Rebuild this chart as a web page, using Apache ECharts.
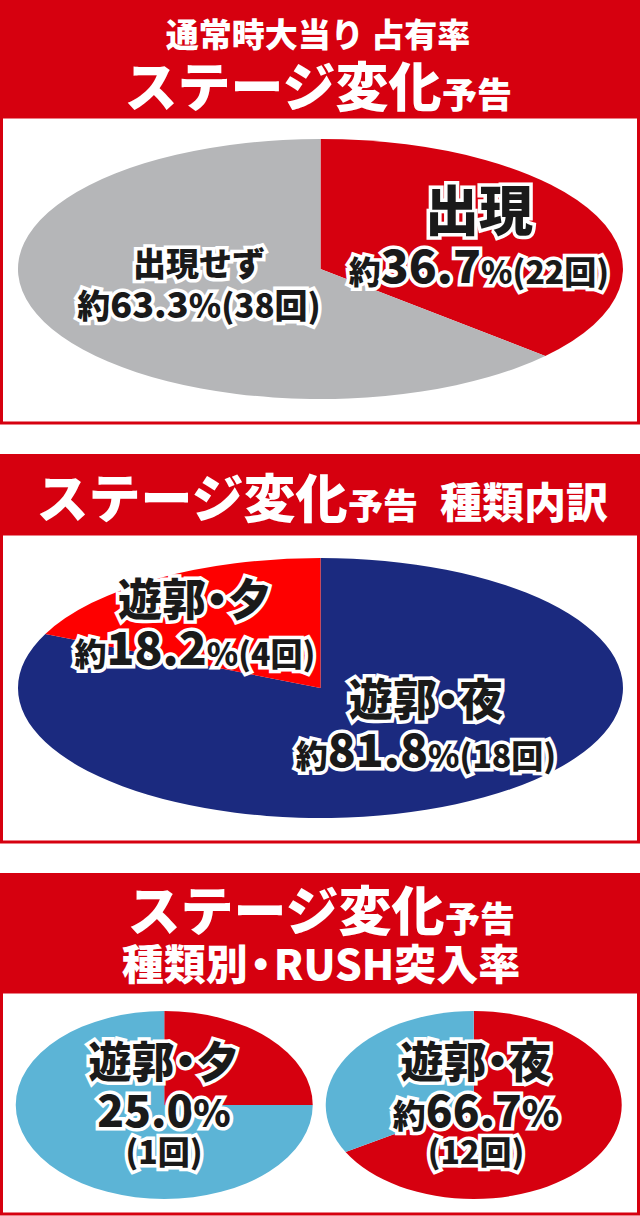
<!DOCTYPE html>
<html><head><meta charset="utf-8">
<script src="https://cdn.jsdelivr.net/npm/echarts@6/dist/echarts.min.js"></script>
<style>
html,body{margin:0;padding:0;background:#fff;}
#page{position:relative;width:640px;height:1216px;overflow:hidden;background:#fff;}
.pie{position:absolute;transform-origin:0 0;}
#overlay{position:absolute;left:0;top:0;width:640px;height:1216px;pointer-events:none;}
</style></head><body>
<div id="page">
  <div id="pie1" class="pie"></div>
  <div id="pie2" class="pie"></div>
  <div id="pie3a" class="pie"></div>
  <div id="pie3b" class="pie"></div>
  <div id="overlay"></div>
</div>
<script>
// ---------- data ----------
const headerTitles = ['通常時大当り 占有率', 'ステージ変化', '予告', '種類内訳', '種類別・RUSH突入率'];
const pie1Names = ['出現', '出現せず'];
const pie1Values = [22, 38];
const pie2Names = ['遊郭・夜', '遊郭・夕'];
const pie2Values = [18, 4];
const pie3aNames = ['RUSH突入', '非突入'];
const pie3aValues = [1, 3];
const pie3bNames = ['RUSH突入', '非突入'];
const pie3bValues = [12, 6];

// ---------- helpers ----------
const RED = '#d6000f';
const FONT = '"Noto Sans CJK JP", "Noto Sans CJK SC", sans-serif';
const WEIGHT = 900;
function pct(values, i) {
  const s = values.reduce((a, b) => a + b, 0);
  return (values[i] / s * 100).toFixed(1);
}
function makePie(id, cx, cy, rx, ry, names, values, colors) {
  const pad = 3;
  const el = document.getElementById(id);
  const size = 2 * ry + 2 * pad;
  const sx = rx / ry;
  el.style.width = size + 'px';
  el.style.height = size + 'px';
  el.style.left = (cx - (ry + pad) * sx) + 'px';
  el.style.top = (cy - ry - pad) + 'px';
  el.style.transform = 'scaleX(' + sx + ')';
  const chart = echarts.init(el, null, { renderer: 'svg' });
  chart.setOption({
    animation: false,
    series: [{
      type: 'pie', center: ['50%', '50%'], radius: [0, ry],
      startAngle: 90, clockwise: true, silent: true,
      label: { show: false }, labelLine: { show: false },
      itemStyle: { borderWidth: 0 },
      data: names.map((n, i) => ({ name: n, value: values[i], itemStyle: { color: colors[i] } }))
    }]
  });
}
// One text element, possibly several lines.
// lines: [{ y: centre of the largest glyph box, segs: [[text, fontSize, extra], ...] }]
let tokId = 0;
function label(x, lines, opts) {
  opts = opts || {};
  const fill = opts.fill || '#1a1a1a';
  const stroke = opts.stroke;
  const lw = opts.lineWidth || 0;
  const rich = {};
  const strs = [];
  let prevBottom = null, top = null;
  lines.forEach((ln) => {
    const fmax = Math.max.apply(null, ln.segs.map(s => s[1]));
    const bottom = ln.y + fmax / 2;
    let L;
    if (prevBottom === null) { L = fmax; top = bottom - fmax; } else { L = bottom - prevBottom; }
    prevBottom = bottom;
    let str = '';
    ln.segs.forEach((s) => {
      const k = 't' + (tokId++);
      str += '{' + k + '|' + s[0] + '}';
      const st = {
        fontSize: s[1], lineHeight: L, fontWeight: WEIGHT, fontFamily: FONT,
        verticalAlign: 'bottom', fill: fill
      };
      if (stroke) { st.stroke = stroke; st.lineWidth = lw; }
      if (s[2]) Object.assign(st, s[2]);
      rich[k] = st;
    });
    strs.push(str);
  });
  const style = {
    text: strs.join('\n'), rich: rich, x: 0, y: 0, fill: fill,
    align: 'center', verticalAlign: 'top',
    fontWeight: WEIGHT, fontFamily: FONT, fontSize: lines[0].segs[0][1]
  };
  if (stroke) { style.stroke = stroke; style.lineWidth = lw; }
  return { type: 'text', x: x, y: top, z: 10, silent: true, style: style };
}
const W = { stroke: '#fff', lineWidth: 7 };
const DOT = { width: 22, align: 'center' };
function nameSegs(name, size, dotW) {
  const p = name.split('・');
  if (p.length === 2) return [[p[0], size], ['・', size, { width: dotW || 22, align: 'center' }], [p[1], size]];
  return [[name, size]];
}

// ---------- pies ----------
makePie('pie1', 320, 269, 302.5, 130, pie1Names, pie1Values, [RED, '#b5b6b8']);
makePie('pie2', 320, 688, 302.5, 130, pie2Names, pie2Values, ['#1b2a7f', '#fe0000']);
makePie('pie3a', 164.5, 1105, 148.5, 94, pie3aNames, pie3aValues, [RED, '#5cb4d6']);
makePie('pie3b', 474, 1105, 148, 94, pie3bNames, pie3bValues, [RED, '#5cb4d6']);

// ---------- overlay ----------
const els = [];
// header bars and boxes
els.push({ type: 'rect', shape: { x: 0, y: 0, width: 640, height: 118 }, style: { fill: RED } });
els.push({ type: 'rect', shape: { x: 1.5, y: 117, width: 637, height: 306 }, style: { fill: 'none', stroke: RED, lineWidth: 3 } });
els.push({ type: 'rect', shape: { x: 0, y: 454, width: 640, height: 81 }, style: { fill: RED } });
els.push({ type: 'rect', shape: { x: 1.5, y: 534, width: 637, height: 308 }, style: { fill: 'none', stroke: RED, lineWidth: 3 } });
els.push({ type: 'rect', shape: { x: 0, y: 873, width: 640, height: 120 }, style: { fill: RED } });
els.push({ type: 'rect', shape: { x: 1.5, y: 992, width: 637, height: 222 }, style: { fill: 'none', stroke: RED, lineWidth: 3 } });

const HW = { fill: '#fff' };
els.push(label(318, [
  { y: 33, segs: [[headerTitles[0], 33]] },
  { y: 84, segs: [[headerTitles[1], 53], [headerTitles[2], 35]] }
], HW));
els.push(label(322, [
  { y: 495, segs: [[headerTitles[1], 52], [headerTitles[2], 35], [' ', 42, { width: 22 }], [headerTitles[3], 42]] }
], HW));
els.push(label(321, [
  { y: 908, segs: [[headerTitles[1], 53], [headerTitles[2], 35]] },
  { y: 962, segs: nameSegs(headerTitles[4], 42, 26) }
], HW));

// pie 1 labels
els.push(label(479, [
  { y: 207, segs: [[pie1Names[0], 54]] },
  { y: 263, segs: [['約', 32], [pct(pie1Values, 0), 46], ['%', 32], ['(' + pie1Values[0] + '回)', 32]] }
], W));
els.push(label(199, [
  { y: 262, segs: [[pie1Names[1], 33]] },
  { y: 302, segs: [['約', 33], [pct(pie1Values, 1), 36], ['%', 33], ['(' + pie1Values[1] + '回)', 33]] }
], W));

// pie 2 labels
els.push(label(195, [
  { y: 597, segs: nameSegs(pie2Names[1], 44) },
  { y: 645, segs: [['約', 32], [pct(pie2Values, 1), 46], ['%', 32], ['(' + pie2Values[1] + '回)', 32]] }
], W));
els.push(label(426, [
  { y: 697, segs: nameSegs(pie2Names[0], 44) },
  { y: 747, segs: [['約', 32], [pct(pie2Values, 0), 46], ['%', 32], ['(' + pie2Values[0] + '回)', 32]] }
], W));

// pie 3 labels
els.push(label(164, [
  { y: 1059, segs: nameSegs(pie2Names[1], 43) },
  { y: 1108, segs: [[pct(pie3aValues, 0), 44], ['%', 38]] },
  { y: 1150, segs: [['(' + pie3aValues[0] + '回)', 32]] }
], W));
els.push(label(476, [
  { y: 1059, segs: nameSegs(pie2Names[0], 43) },
  { y: 1108, segs: [['約', 33], [pct(pie3bValues, 0), 44], ['%', 38]] },
  { y: 1150, segs: [['(' + pie3bValues[0] + '回)', 32]] }
], W));

const ov = echarts.init(document.getElementById('overlay'), null, { renderer: 'svg' });
ov.setOption({ animation: false, graphic: { elements: els } });
</script>
</body></html>
